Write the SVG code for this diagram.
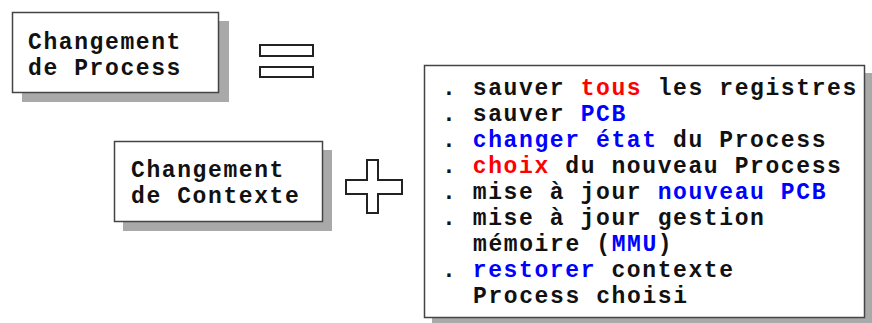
<svg xmlns="http://www.w3.org/2000/svg" width="872" height="323" viewBox="0 0 872 323">
<style>
.shadow{fill:#a9a9a9}
.box{fill:#fff;stroke:#444;stroke-width:1.5}
.t{font-family:"Liberation Mono","Courier New",monospace;font-size:23px;letter-spacing:1.6px;fill:#111;font-weight:bold}
.r{fill:#ff0000}
.b{fill:#0000ff}
.sym{fill:#fff;stroke:#222;stroke-width:2}
</style>
<rect width="872" height="323" fill="#fff"/>
<g id="changement-process">
<rect class="shadow" x="22" y="21" width="207" height="81"/>
<rect class="box" x="12.5" y="12.5" width="206" height="80"/>
<text class="t" x="28" y="49">Changement</text>
<text class="t" x="28" y="75">de Process</text>
</g>
<g id="equals">
<rect class="sym" x="260" y="45" width="53" height="11"/>
<rect class="sym" x="260" y="67" width="53" height="10"/>
</g>
<g id="changement-contexte">
<rect class="shadow" x="123" y="150" width="209" height="81"/>
<rect class="box" x="114.5" y="141.5" width="208" height="80"/>
<text class="t" x="131" y="177">Changement</text>
<text class="t" x="131" y="203">de Contexte</text>
</g>
<g id="plus">
<path class="sym" d="M367,160 H378 V180 H402 V194 H378 V213 H367 V194 H346 V180 H367 Z"/>
</g>
<g id="etapes">
<rect class="shadow" x="432" y="73" width="442" height="254"/>
<rect class="box" x="424.5" y="65.5" width="440" height="252"/>
<text class="t" x="442" y="95">. sauver <tspan class="r">tous</tspan> les registres</text>
<text class="t" x="442" y="121">. sauver <tspan class="b">PCB</tspan></text>
<text class="t" x="442" y="147">. <tspan class="b">changer état</tspan> du Process</text>
<text class="t" x="442" y="173">. <tspan class="r">choix</tspan> du nouveau Process</text>
<text class="t" x="442" y="199">. mise à jour <tspan class="b">nouveau PCB</tspan></text>
<text class="t" x="442" y="225">. mise à jour gestion</text>
<text class="t" x="473" y="251">mémoire (<tspan class="b">MMU</tspan>)</text>
<text class="t" x="442" y="277">. <tspan class="b">restorer</tspan> contexte</text>
<text class="t" x="473" y="303">Process choisi</text>
</g>
<g id="connectors"/>
</svg>
